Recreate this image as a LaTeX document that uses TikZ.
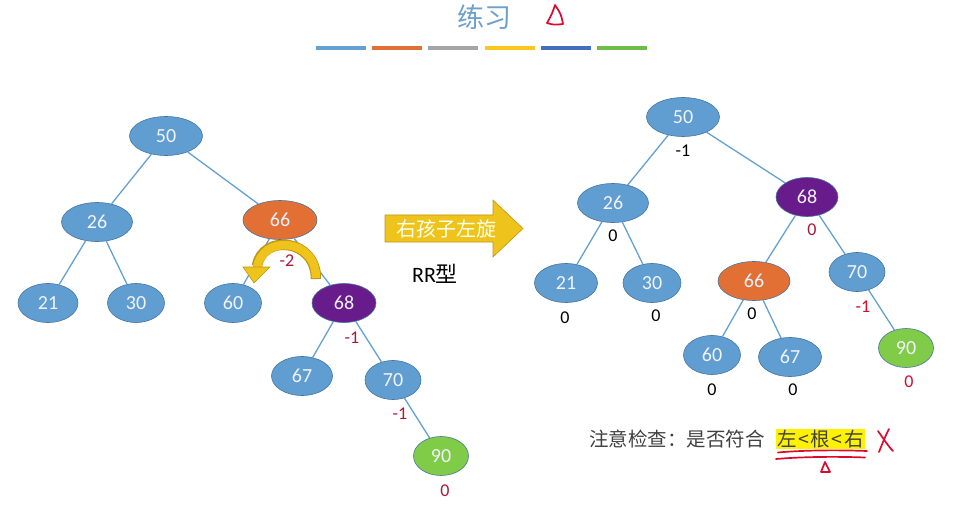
\documentclass[tikz,border=0pt]{standalone}
\usepackage{fontspec}
\setmainfont{Carlito}
\newfontfamily\cjk{Noto Sans CJK SC}
\usetikzlibrary{shapes.geometric,arrows.meta}
\definecolor{nblue}{RGB}{96,158,210}
\definecolor{nblueD}{RGB}{70,118,160}
\definecolor{norange}{RGB}{226,112,52}
\definecolor{npurple}{RGB}{104,28,140}
\definecolor{ngreen}{RGB}{128,204,72}
\definecolor{edgec}{RGB}{100,160,210}
\definecolor{dred}{RGB}{165,25,60}
\definecolor{hred}{RGB}{220,10,45}
\definecolor{ayellow}{RGB}{238,196,28}
\definecolor{ayellowD}{RGB}{190,150,20}
\definecolor{titleblue}{RGB}{110,160,205}
\definecolor{bar1}{RGB}{100,160,210}
\definecolor{bar2}{RGB}{226,112,52}
\definecolor{bar3}{RGB}{165,165,165}
\definecolor{bar4}{RGB}{250,200,30}
\definecolor{bar5}{RGB}{70,110,190}
\definecolor{bar6}{RGB}{110,190,70}
\tikzset{
  tn/.style={ellipse, minimum width=60pt, minimum height=39pt, inner sep=0pt, draw=nblueD, line width=0.6pt, fill=nblue, text=white!95!blue, font=\fontsize{20}{20}\selectfont},
  big/.style={minimum width=73pt},
  torange/.style={tn, fill=norange},
  tpurple/.style={tn, fill=npurple},
  tgreen/.style={tn, fill=ngreen, minimum width=55pt},
  ed/.style={draw=edgec, line width=1.3pt},
  bf/.style={font=\fontsize{18}{18}\selectfont, text=black, inner sep=0pt},
  rf/.style={font=\fontsize{18}{18}\selectfont, text=dred, inner sep=0pt},
  bar/.style={line width=4.5pt},
  hand/.style={draw=hred, line width=1.7pt, line cap=round, line join=round}
}
\begin{document}
\begin{tikzpicture}[x=1pt,y=-1pt]
\useasboundingbox (0,0) rectangle (978,508);
% title
\node[text=titleblue, font=\cjk\fontsize{27}{27}\selectfont] (title) at (484,17) {练习};
\draw[hand] (555,5) .. controls (552,14) .. (547,23) .. controls (554,25) .. (563,24) .. controls (561,14) .. (555,5);
\foreach \x/\c in {316/bar1,372/bar2,428/bar3,485/bar4,541/bar5,597/bar6}
  \draw[bar,\c] (\x,48) -- ++(50,0);
% left tree
\node[tn,big] (L50) at (166,136) {50};
\node[tn,big,minimum width=71pt] (L26) at (97,222) {26};
\node[torange,big,minimum width=74pt] (L66) at (280,220) {66};
\node[tn] (L21) at (48,303) {21};
\node[tn,minimum width=57pt] (L30) at (136,303) {30};
\node[tn,minimum width=57pt] (L60) at (233,303) {60};
\node[tpurple,minimum width=64pt] (L68) at (344,303) {68};
\node[tn,minimum width=61pt] (L67) at (302,376) {67};
\node[tn,minimum width=56pt] (L70) at (393,380) {70};
\node[tgreen] (L90) at (441,456) {90};
\draw[ed] (L50) -- (L26);
\draw[ed] (L50) -- (L66);
\draw[ed] (L26) -- (L21);
\draw[ed] (L26) -- (L30);
\draw[ed] (L66) -- (L60);
\draw[ed] (L66) -- (L68);
\draw[ed] (L68) -- (L67);
\draw[ed] (L68) -- (L70);
\draw[ed] (L70) -- (L90);
\node[rf] (lb66) at (287,261) {-2};
\node[rf] (lb68) at (352,338) {-1};
\node[rf] (lb70) at (400,414) {-1};
\node[rf] (lb90) at (445,491) {0};
% curved arrow
\draw[ayellowD, line width=10.5pt] (316,279) .. controls (316,238) and (262,234) .. (257,266);
\draw[ayellow, line width=8.5pt] (316,278) .. controls (316,238) and (262,234) .. (257,268);
\fill[ayellow, draw=ayellowD, line width=0.6pt] (243,267) -- (270,267) -- (254,283) -- cycle;
% block arrow
\fill[ayellow, draw=ayellowD, line width=0.6pt] (385,215) -- (493,215) -- (493,200) -- (523,228.5) -- (493,257) -- (493,242) -- (385,242) -- cycle;
\node[text=white!92!yellow, font=\cjk\fontsize{20}{20}\selectfont] (arrtext) at (446,228.5) {右孩子左旋};
\node[font=\fontsize{22}{22}\selectfont] (rr) at (435,274) {RR{\cjk 型}};
% right tree
\node[tn,big] (R50) at (683,117) {50};
\node[tn,big,minimum width=71pt] (R26) at (613,203) {26};
\node[tpurple,minimum width=62pt] (R68) at (807,197) {68};
\node[tn,minimum width=63pt] (R21) at (566,283) {21};
\node[tn,minimum width=58pt] (R30) at (652,283) {30};
\node[torange,minimum width=72pt] (R66) at (754,281) {66};
\node[tn,minimum width=56pt] (R70) at (857,272) {70};
\node[tn,minimum width=57pt] (R60) at (712,355) {60};
\node[tn,minimum width=63pt] (R67) at (790,357) {67};
\node[tgreen] (R90) at (906,348) {90};
\draw[ed] (R50) -- (R26);
\draw[ed] (R50) -- (R68);
\draw[ed] (R26) -- (R21);
\draw[ed] (R26) -- (R30);
\draw[ed] (R68) -- (R66);
\draw[ed] (R68) -- (R70);
\draw[ed] (R66) -- (R60);
\draw[ed] (R66) -- (R67);
\draw[ed] (R70) -- (R90);
\node[bf] (rb50) at (683,151) {-1};
\node[bf] (rb26) at (613,236) {0};
\node[rf] (rb68) at (812,230) {0};
\node[bf] (rb21) at (565,318) {0};
\node[bf] (rb30) at (656,316) {0};
\node[bf] (rb66) at (752,314) {0};
\node[rf, text=hred] (rb70) at (863,307) {-1};
\node[bf] (rb60) at (712,390) {0};
\node[bf] (rb67) at (793,390) {0};
\node[rf, text=hred] (rb90) at (909,382) {0};
% bottom note
\node[anchor=west, inner sep=0pt, text=black!75, font=\cjk\fontsize{19.5}{19.5}\selectfont] (note) at (589,439) {注意检查：是否符合};
\node[anchor=west, inner sep=1.5pt, fill=yellow, text=black!75, font=\cjk\fontsize{19.5}{19.5}\selectfont] (hl) at ([xshift=11pt]note.east) {左\hspace{1.5pt}<\hspace{1.5pt}根\hspace{1.5pt}<\hspace{1.5pt}右};
\draw[hand] (778,452.5) .. controls (805,450) and (840,450) .. (867,451);
\draw[hand] (776,459) .. controls (805,456.5) and (840,456.5) .. (865,457.5);
\draw[hand] (825,462) -- (821,472) -- (830,472) -- cycle;
\draw[hand] (878,431) .. controls (883,438) and (888,446) .. (893,451);
\draw[hand] (889,429) .. controls (885,437) .. (879,452);
\end{tikzpicture}
\end{document}
